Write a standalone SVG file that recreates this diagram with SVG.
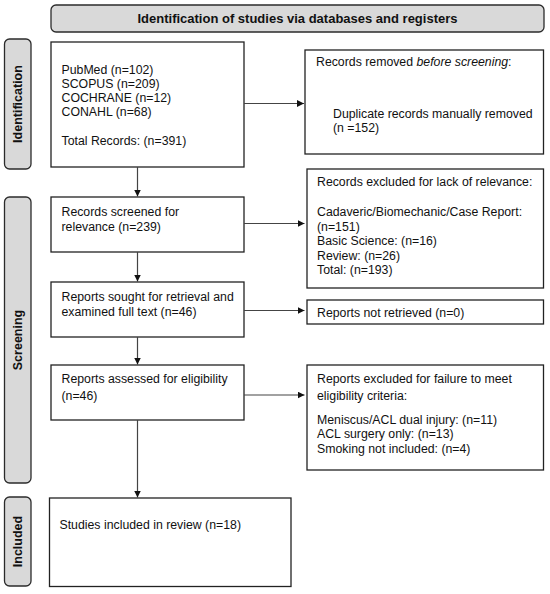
<svg xmlns="http://www.w3.org/2000/svg" width="550" height="594" viewBox="0 0 550 594">
<style>
.lbl{fill:#d9d9d9;stroke:#2b2b2b;stroke-width:1.3}
.box{fill:#fff;stroke:#222;stroke-width:1.3}
.t{font-family:"Liberation Sans",Arial,sans-serif;font-size:12.3px;fill:#111}
.b{font-family:"Liberation Sans",Arial,sans-serif;font-weight:bold;fill:#111}
.c{stroke:#444;stroke-width:1.2;fill:none}
</style>
<defs>
<marker id="ah" viewBox="0 0 10 10" refX="10" refY="5" markerWidth="7" markerHeight="7" markerUnits="userSpaceOnUse" orient="auto">
<path d="M0,0 L10,5 L0,10 z" fill="#111"/>
</marker>
</defs>
<rect width="550" height="594" fill="#fff"/>
<g id="header">
<rect class="lbl" x="51" y="5" width="493" height="27" rx="5"/>
<text class="b" x="297.5" y="23" font-size="13" text-anchor="middle">Identification of studies via databases and registers</text>
</g>
<g id="label-identification">
<rect class="lbl" x="4.5" y="39" width="26.5" height="130" rx="5"/>
<text class="b" font-size="12.5" text-anchor="middle" transform="translate(22,104) rotate(-90)">Identification</text>
</g>
<g id="label-screening">
<rect class="lbl" x="4.5" y="197" width="26.5" height="286" rx="5"/>
<text class="b" font-size="12.5" text-anchor="middle" transform="translate(22,340) rotate(-90)">Screening</text>
</g>
<g id="label-included">
<rect class="lbl" x="4.5" y="497" width="26.5" height="89" rx="5"/>
<text class="b" font-size="12.5" text-anchor="middle" transform="translate(22,541.5) rotate(-90)">Included</text>
</g>
<g id="records-identified">
<rect class="box" x="51" y="42" width="193" height="125"/>
<text class="t" x="61.5" y="74">PubMed (n=102)</text>
<text class="t" x="61.5" y="88">SCOPUS (n=209)</text>
<text class="t" x="61.5" y="102">COCHRANE (n=12)</text>
<text class="t" x="61.5" y="116">CONAHL (n=68)</text>
<text class="t" x="61.5" y="144.5">Total Records: (n=391)</text>
</g>
<g id="records-removed">
<rect class="box" x="305" y="50" width="238.5" height="104"/>
<text class="t" x="316" y="66">Records removed <tspan font-style="italic">before screening</tspan>:</text>
<text class="t" x="333" y="117.5">Duplicate records manually removed</text>
<text class="t" x="333" y="132">(n =152)</text>
</g>
<g id="records-screened">
<rect class="box" x="51" y="197" width="193" height="55"/>
<text class="t" x="61.5" y="216">Records screened for</text>
<text class="t" x="61.5" y="231">relevance (n=239)</text>
</g>
<g id="records-excluded">
<rect class="box" x="307" y="169" width="236.5" height="119"/>
<text class="t" x="317" y="186">Records excluded for lack of relevance:</text>
<text class="t" x="317" y="216">Cadaveric/Biomechanic/Case Report:</text>
<text class="t" x="317" y="230.5">(n=151)</text>
<text class="t" x="317" y="245">Basic Science: (n=16)</text>
<text class="t" x="317" y="259.5">Review: (n=26)</text>
<text class="t" x="317" y="274">Total: (n=193)</text>
</g>
<g id="reports-sought">
<rect class="box" x="51" y="282" width="193" height="55"/>
<text class="t" x="61.5" y="301">Reports sought for retrieval and</text>
<text class="t" x="61.5" y="315.5">examined full text (n=46)</text>
</g>
<g id="reports-not-retrieved">
<rect class="box" x="307" y="300" width="236.5" height="24"/>
<text class="t" x="317" y="317">Reports not retrieved (n=0)</text>
</g>
<g id="reports-assessed">
<rect class="box" x="51" y="365" width="193" height="55"/>
<text class="t" x="61.5" y="383">Reports assessed for eligibility</text>
<text class="t" x="61.5" y="399.5">(n=46)</text>
</g>
<g id="reports-excluded">
<rect class="box" x="307" y="365" width="236.5" height="105"/>
<text class="t" x="317" y="383">Reports excluded for failure to meet</text>
<text class="t" x="317" y="399.5">eligibility criteria:</text>
<text class="t" x="317" y="423.5">Meniscus/ACL dual injury: (n=11)</text>
<text class="t" x="317" y="438">ACL surgery only: (n=13)</text>
<text class="t" x="317" y="452.5">Smoking not included: (n=4)</text>
</g>
<g id="studies-included">
<rect class="box" x="49.5" y="498" width="241.5" height="88.5"/>
<text class="t" x="59.5" y="529">Studies included in review (n=18)</text>
</g>
<g id="connectors">
<line class="c" x1="244" y1="103.5" x2="304" y2="103.5" marker-end="url(#ah)"/>
<line class="c" x1="137.5" y1="167" x2="137.5" y2="196.5" marker-end="url(#ah)"/>
<line class="c" x1="244" y1="223.5" x2="304.5" y2="223.5" marker-end="url(#ah)"/>
<line class="c" x1="137.5" y1="252" x2="137.5" y2="281.5" marker-end="url(#ah)"/>
<line class="c" x1="244" y1="310.5" x2="304.5" y2="310.5" marker-end="url(#ah)"/>
<line class="c" x1="137.5" y1="337" x2="137.5" y2="364.5" marker-end="url(#ah)"/>
<line class="c" x1="244" y1="395" x2="304.5" y2="395" marker-end="url(#ah)"/>
<line class="c" x1="137.5" y1="420" x2="137.5" y2="497.5" marker-end="url(#ah)"/>
</g>
</svg>
